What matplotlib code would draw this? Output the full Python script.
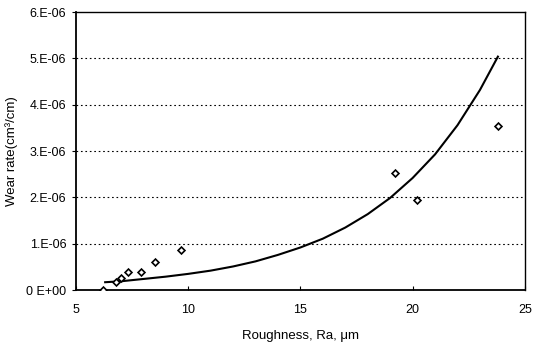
import matplotlib
matplotlib.use("Agg")
import matplotlib.pyplot as plt
from matplotlib.ticker import FixedLocator, FixedFormatter

plt.rcParams['font.family'] = ['Liberation Sans', 'DejaVu Sans']

# measured points
rough_pts = [6.2, 6.8, 7.0, 7.3, 7.9, 8.5, 9.7, 19.2, 20.2, 23.8]
wear_pts = [0.0, 0.17e-6, 0.26e-6, 0.39e-6, 0.39e-6, 0.60e-6, 0.87e-6, 2.52e-6, 1.95e-6, 3.55e-6]

# trend curve
trend_x = [6.3, 7, 8, 9, 10, 11, 12, 13, 14, 15, 16, 17, 18, 19, 20, 21, 22, 23, 23.8]
trend_y = [0.17e-6, 0.19e-6, 0.24e-6, 0.29e-6, 0.35e-6, 0.42e-6, 0.51e-6, 0.62e-6, 0.76e-6,
           0.92e-6, 1.11e-6, 1.35e-6, 1.64e-6, 1.99e-6, 2.42e-6, 2.93e-6, 3.56e-6, 4.32e-6, 5.04e-6]

xticks = [5, 10, 15, 20, 25]
yticks = [0, 1e-6, 2e-6, 3e-6, 4e-6, 5e-6, 6e-6]
ytick_labels = ["0 E+00", "1.E-06", "2.E-06", "3.E-06", "4.E-06", "5.E-06", "6.E-06"]

fig = plt.figure(figsize=(5.35, 3.47), dpi=100)
ax = fig.add_axes([0.142, 0.164, 0.839, 0.801])

for y in yticks[1:-1]:
    ax.axhline(y, color='black', linestyle=(0, (1.5, 2.5)), linewidth=0.8, zorder=1)

ax.plot(trend_x, trend_y, color='black', linewidth=1.5, zorder=3)
ax.plot(rough_pts, wear_pts, linestyle='none', marker='D', markersize=3.5,
        markerfacecolor='white', markeredgecolor='black', markeredgewidth=1.2, zorder=4)

ax.set_xlim(5, 25)
ax.set_ylim(0, 6e-6)
ax.xaxis.set_major_locator(FixedLocator(xticks))
ax.yaxis.set_major_locator(FixedLocator(yticks))
ax.yaxis.set_major_formatter(FixedFormatter(ytick_labels))

ax.tick_params(axis='x', direction='in', length=3, labelsize=9, pad=10, colors='black')
ax.tick_params(axis='y', direction='out', length=3, labelsize=9, pad=4, colors='black')

for s in ['left', 'bottom']:
    ax.spines[s].set_linewidth(1.3)
for s in ['top', 'right']:
    ax.spines[s].set_linewidth(1.0)

ax.set_xlabel("Roughness, Ra, μm", fontsize=9.5, labelpad=10)
ax.set_ylabel("Wear rate(cm³/cm)", fontsize=9.5, labelpad=6)

fig.savefig("out.png", dpi=100)
